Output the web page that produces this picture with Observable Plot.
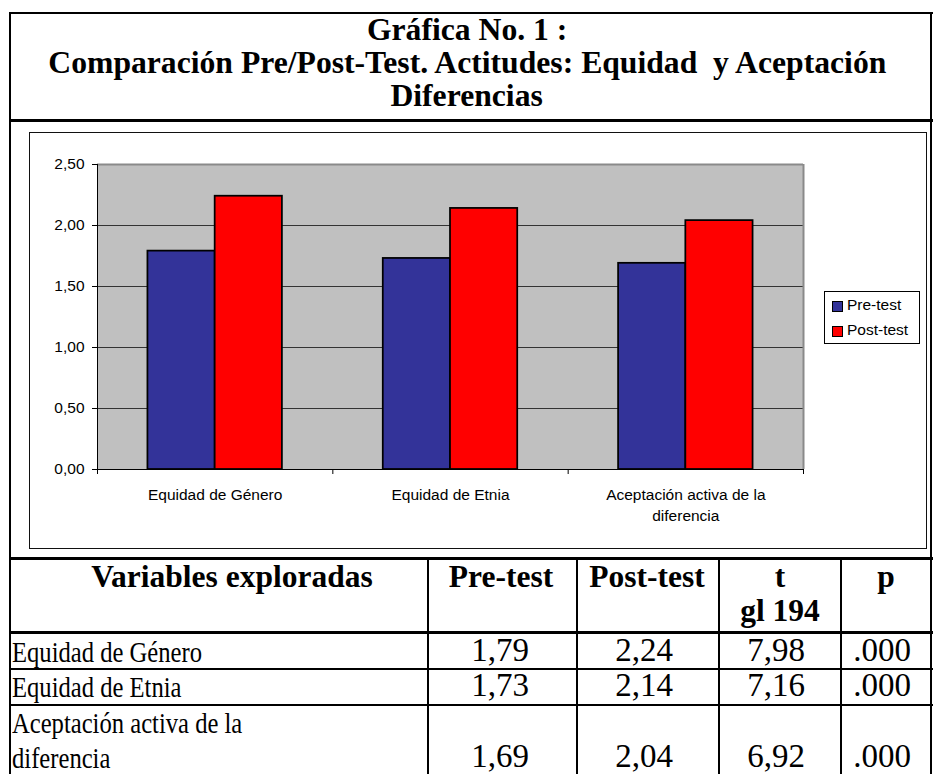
<!DOCTYPE html>
<html><head><meta charset="utf-8">
<script src="https://cdn.jsdelivr.net/npm/d3@7"></script>
<script src="https://cdn.jsdelivr.net/npm/@observablehq/plot@0.6"></script>
<style>
html,body{margin:0;padding:0;background:#fff;}
#page{position:relative;width:933px;height:774px;overflow:hidden;background:#fff;}
.ln{position:absolute;background:#000;}
.t{position:absolute;white-space:pre;color:#000;}
#chartbox{position:absolute;left:29px;top:132px;width:898px;height:417px;border:1px solid #111;box-sizing:border-box;}
#plotwrap{position:absolute;left:30px;top:133px;}
#legend{position:absolute;left:824px;top:291px;width:96px;height:53px;border:1px solid #000;box-sizing:border-box;background:#fff;}
.sw{position:absolute;width:11px;height:11px;border:1px solid #000;box-sizing:border-box;}
</style></head><body><div id="page"></div>
<script>
// ---- data ----
const titleLines = ["Gráfica No. 1 :", "Comparación Pre/Post-Test. Actitudes: Equidad  y Aceptación", "Diferencias"];
const categories = ["Equidad de Género", "Equidad de Etnia", "Aceptación activa de la diferencia"];
const categoryLabels = ["Equidad de Género", "Equidad de Etnia", "Aceptación activa de la\ndiferencia"];
const series = ["Pre-test", "Post-test"];
const seriesColors = ["#333399", "#ff0000"];
const preTest = [1.79, 1.73, 1.69];
const postTest = [2.24, 2.14, 2.04];
const yTicks = [0, 0.5, 1, 1.5, 2, 2.5];
const tableHeader = ["Variables exploradas", "Pre-test", "Post-test", "t\ngl 194", "p"];
const rowLabels = [["Equidad de Género"], ["Equidad de Etnia"], ["Aceptación activa de la", "diferencia"]];
const preText = ["1,79", "1,73", "1,69"];
const postText = ["2,24", "2,14", "2,04"];
const tText = ["7,98", "7,16", "6,92"];
const pText = [".000", ".000", ".000"];

const page = document.getElementById("page");
const SERIF = '"Liberation Serif","Times New Roman",serif';
const SANS = '"Liberation Sans",Arial,sans-serif';

function line(x, y, w, h, color) {
  const d = document.createElement("div");
  d.className = "ln";
  Object.assign(d.style, {left: x + "px", top: y + "px", width: w + "px", height: h + "px"});
  if (color) d.style.background = color;
  page.appendChild(d);
  return d;
}
function text(str, o) {
  const el = document.createElement("div");
  el.className = "t";
  el.textContent = str;
  const fam = o.family || SERIF;
  el.style.fontFamily = fam;
  el.style.fontSize = o.size + "px";
  el.style.lineHeight = o.size + "px";
  el.style.fontWeight = o.weight || "normal";
  page.appendChild(el);
  const nat = el.getBoundingClientRect().width;
  const k = o.scale || (o.width ? o.width / nat : 1);
  const asc = fam === SANS ? 0.8465 : 0.8375;
  el.style.top = (o.baseline - asc * o.size) + "px";
  const anchor = o.anchor || "middle";
  if (anchor === "middle") {
    el.style.left = (o.x - nat / 2) + "px";
    el.style.transformOrigin = "50% 50%";
  } else {
    el.style.left = o.x + "px";
    el.style.transformOrigin = "0 50%";
  }
  if (k !== 1) el.style.transform = `scaleX(${k})`;
  return {el, nat, k};
}

// ---- frame lines ----
line(9, 12, 924, 2);          // top border
line(9, 12, 2, 762);          // left border
line(930, 12, 2, 762);        // right border
line(9, 119, 924, 3);         // separator under title

// ---- title ----
const t2 = text(titleLines[1], {x: 467, baseline: 73, size: 31, weight: "bold", width: 838});
text(titleLines[0], {x: 467, baseline: 40, size: 31, weight: "bold", scale: t2.k});
text(titleLines[2], {x: 467, baseline: 106, size: 31, weight: "bold", scale: t2.k});

// ---- chart box ----
const box = document.createElement("div"); box.id = "chartbox"; page.appendChild(box);

const rows = categories.flatMap((c, i) => series.map((s, j) => ({
  category: c, ci: i, series: s, si: j, value: (j === 0 ? preTest : postTest)[i]
})));
const gapWidth = 1.5; // Excel-style gap width (150%)
const slot = 1 / (series.length + gapWidth);
const commaFmt = d => d3.format(".2f")(d).replace(".", ",");

const chart = Plot.plot({
  width: 896, height: 415,
  marginLeft: 67, marginTop: 31, marginBottom: 79, marginRight: 123,
  style: {fontFamily: SANS, fontSize: "15.5px", color: "#000", background: "transparent", overflow: "visible"},
  x: {domain: [0, categories.length], axis: null},
  y: {domain: [0, 2.5], axis: null},
  color: {domain: series, range: seriesColors},
  marks: [
    Plot.frame({fill: "#c0c0c0", stroke: null}),
    Plot.ruleY(yTicks.slice(1, -1), {stroke: "#333", strokeWidth: 1}),
    Plot.ruleY([yTicks[yTicks.length - 1]], {stroke: "#8a8a8a", strokeWidth: 2}),
    Plot.ruleX([categories.length], {stroke: "#8a8a8a", strokeWidth: 2}),
    Plot.rect(rows, {
      x1: d => d.ci + (gapWidth / 2 + d.si) * slot,
      x2: d => d.ci + (gapWidth / 2 + d.si + 1) * slot,
      y1: 0, y2: "value",
      fill: "series", stroke: "#000", strokeWidth: 1.75
    }),
    Plot.ruleX([0], {stroke: "#000"}),
    Plot.ruleY([0], {stroke: "#000"}),
    Plot.axisY({ticks: yTicks, tickSize: 5, tickPadding: 8, tickFormat: commaFmt, label: null}),
    Plot.axisX({ticks: d3.range(categories.length + 1), tickSize: 5, tickFormat: () => "", label: null}),
    Plot.axisX({ticks: categories.map((c, i) => i + 0.5), tickSize: 0, tickPadding: 16, lineHeight: 1.35, label: null,
      tickFormat: d => categoryLabels[Math.round(d - 0.5)]})
  ]
});
const wrap = document.createElement("div"); wrap.id = "plotwrap"; wrap.appendChild(chart); page.appendChild(wrap);

// ---- legend ----
const legend = document.createElement("div"); legend.id = "legend"; page.appendChild(legend);
series.forEach((s, j) => {
  const sw = document.createElement("div"); sw.className = "sw";
  sw.style.left = "7px"; sw.style.top = (9 + j * 25) + "px"; sw.style.background = seriesColors[j];
  legend.appendChild(sw);
  text(s, {x: 847, baseline: 310 + j * 25, size: 15.5, family: SANS, anchor: "start"});
});

// ---- table ----
const colX = [427, 576, 718, 840];
line(9, 557, 924, 3);
line(9, 631, 924, 3);
line(9, 668, 924, 2);
line(9, 704, 924, 2);
colX.forEach(x => line(x, 557, 2, 217));

const headX = [232, 501, 647, 780, 886];
tableHeader.forEach((h, i) => {
  const parts = h.split("\n");
  parts.forEach((p, k) => text(p, {x: headX[i], baseline: 587 + k * 34, size: 31.5, weight: "bold"}));
});

const rowBase = [662, 697, 768];
const fit = text(rowLabels[0][0], {x: 12, baseline: rowBase[0], size: 29, anchor: "start", width: 190});
rowLabels.forEach((lines, r) => {
  lines.forEach((l, k) => {
    if (r === 0 && k === 0) return;
    const b = lines.length === 1 ? rowBase[r] : rowBase[r] - (lines.length - 1 - k) * 35;
    text(l, {x: 12, baseline: b, size: 29, anchor: "start", scale: fit.k});
  });
});
const numX = [500, 644, 776, 882];
[preText, postText, tText, pText].forEach((col, c) => {
  col.forEach((v, r) => text(v, {x: numX[c], baseline: rowBase[r], size: 33}));
});
</script>
</body></html>
